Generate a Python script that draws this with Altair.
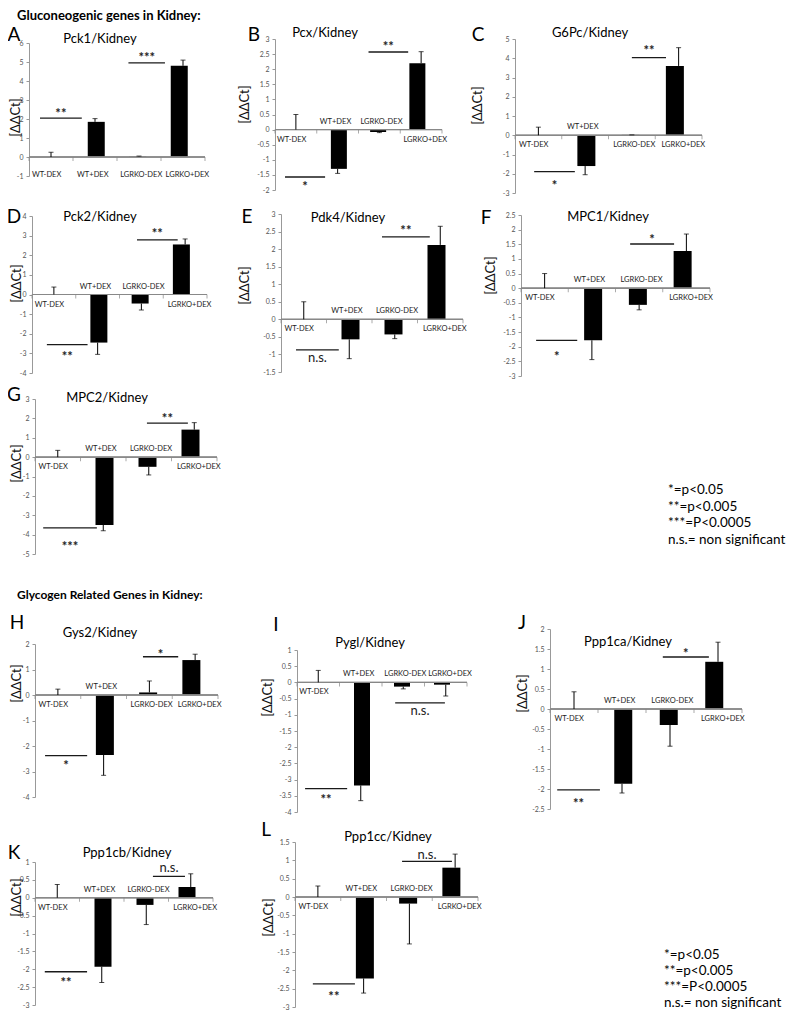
import altair as alt
import pandas as pd

FONT = "Lato"
GROUPS = ["WT-DEX", "WT+DEX", "LGRKO-DEX", "LGRKO+DEX"]

# ---- values: mean [ΔΔCt] and error per group ----
PCK1_MEAN = [0.0, 1.85, 0.03, 4.8]
PCK1_ERR = [0.25, 0.17, 0.02, 0.3]
PCX_MEAN = [0.0, -1.3, -0.08, 2.2]
PCX_ERR = [0.5, 0.15, 0.02, 0.38]
G6PC_MEAN = [0.0, -1.6, 0.02, 3.6]
G6PC_ERR = [0.42, 0.45, 0.0, 0.95]
PCK2_MEAN = [0.0, -2.45, -0.46, 2.55]
PCK2_ERR = [0.38, 0.6, 0.33, 0.28]
PDK4_MEAN = [0.0, -0.57, -0.43, 2.12]
PDK4_ERR = [0.5, 0.55, 0.12, 0.53]
MPC1_MEAN = [0.0, -1.78, -0.57, 1.27]
MPC1_ERR = [0.5, 0.66, 0.17, 0.58]
MPC2_MEAN = [0.0, -3.5, -0.5, 1.42]
MPC2_ERR = [0.35, 0.3, 0.42, 0.36]
GYS2_MEAN = [0.0, -2.35, 0.1, 1.37]
GYS2_ERR = [0.23, 0.8, 0.45, 0.23]
PYGL_MEAN = [0.0, -3.18, -0.13, -0.07]
PYGL_ERR = [0.37, 0.47, 0.07, 0.35]
PPP1CA_MEAN = [0.0, -1.87, -0.4, 1.18]
PPP1CA_ERR = [0.43, 0.23, 0.53, 0.49]
PPP1CB_MEAN = [0.0, -1.93, -0.2, 0.3]
PPP1CB_ERR = [0.37, 0.44, 0.55, 0.37]
PPP1CC_MEAN = [0.0, -2.22, -0.18, 0.8]
PPP1CC_ERR = [0.3, 0.4, 1.1, 0.37]

# ---- significance brackets: (from, to) in group units, line level, label, label level ----
PCK1_SIG = [(0.25, 1.2, 2.05, "**", 2.4), (2.26, 3.09, 4.95, "***", 5.35)]
PCX_SIG = [(0.24, 1.2, -1.57, "*", -1.8), (2.24, 3.19, 2.57, "**", 2.85)]
G6PC_SIG = [(0.41, 1.28, -1.89, "*", -2.5), (2.5, 3.23, 4.03, "**", 4.55)]
PCK2_SIG = [(0.34, 1.27, -2.55, "**", -3.05), (2.4, 3.33, 2.78, "**", 3.25)]
PDK4_SIG = [(0.33, 1.27, -0.87, "n.s.", -1.1), (2.22, 3.27, 2.35, "**", 2.6)]
MPC1_SIG = [(0.32, 1.19, -1.78, "*", -2.25), (2.31, 3.24, 1.51, "*", 1.76)]
MPC2_SIG = [(0.18, 1.36, -3.65, "***", -4.5), (2.46, 3.36, 1.75, "**", 2.1)]
GYS2_SIG = [(0.22, 1.14, -2.38, "*", -2.65), (2.36, 3.13, 1.5, "*", 1.68)]
PYGL_SIG = [(0.19, 1.18, -3.28, "**", -3.55), (2.31, 3.48, -0.63, "n.s.", -0.87)]
PPP1CA_SIG = [(0.15, 1.04, -2.02, "**", -2.3), (2.35, 3.31, 1.3, "*", 1.45)]
PPP1CB_SIG = [(0.22, 1.17, -2.07, "**", -2.3), (2.65, 3.37, 0.6, "n.s.", 0.82)]
PPP1CC_SIG = [(0.39, 1.31, -2.37, "**", -2.65), (2.34, 3.43, 0.97, "n.s.", 1.15)]

LETTERS = ["A", "B", "C", "D", "E", "F", "G", "H", "I", "J", "K", "L"]
TITLES = ["Pck1/Kidney", "Pcx/Kidney", "G6Pc/Kidney", "Pck2/Kidney", "Pdk4/Kidney",
          "MPC1/Kidney", "MPC2/Kidney", "Gys2/Kidney", "Pygl/Kidney", "Ppp1ca/Kidney",
          "Ppp1cb/Kidney", "Ppp1cc/Kidney"]
MEANS = [PCK1_MEAN, PCX_MEAN, G6PC_MEAN, PCK2_MEAN, PDK4_MEAN, MPC1_MEAN, MPC2_MEAN,
         GYS2_MEAN, PYGL_MEAN, PPP1CA_MEAN, PPP1CB_MEAN, PPP1CC_MEAN]
ERRS = [PCK1_ERR, PCX_ERR, G6PC_ERR, PCK2_ERR, PDK4_ERR, MPC1_ERR, MPC2_ERR,
        GYS2_ERR, PYGL_ERR, PPP1CA_ERR, PPP1CB_ERR, PPP1CC_ERR]
SIGS = [PCK1_SIG, PCX_SIG, G6PC_SIG, PCK2_SIG, PDK4_SIG, MPC1_SIG, MPC2_SIG,
        GYS2_SIG, PYGL_SIG, PPP1CA_SIG, PPP1CB_SIG, PPP1CC_SIG]
# axis ranges (max, min, tick step)
YAXES = [(6, -1, 1), (3, -2, 0.5), (5, -3, 1), (4, -4, 1), (3, -1.5, 0.5), (2.5, -3, 0.5),
         (3, -5, 1), (2, -4, 1), (1, -4, 0.5), (2, -2.5, 0.5), (1, -3, 0.5), (1.5, -3, 0.5)]

HEADER1 = "Gluconeogenic genes in Kidney:"
HEADER2 = "Glycogen Related Genes in Kidney:"
LEGEND = "*=p<0.05\n**=p<0.005\n***=P<0.0005\nn.s.= non significant"

# ---- layout (page pixels): plot left, right, top, bottom ----
GEOM = [(29, 205, 43, 176), (275, 442, 39, 190), (515, 702, 39, 193),
        (32, 207, 216, 373), (281, 463, 214, 372), (521, 710, 215, 376),
        (35, 217, 399, 554),
        (35, 218, 644, 797), (297, 467, 650, 812), (550, 742, 629, 809),
        (35, 213, 862, 1005), (295, 478, 842, 1007)]
LETTER_POS = [(14, 35), (254, 35), (478, 35), (14, 217), (247, 217), (486, 218), (14, 395),
              (17, 623), (276, 625), (522, 623), (14, 853), (266, 830)]
TITLE_POS = [(100, 39), (325, 33), (590, 33), (100, 217), (348, 218), (608, 217), (107, 398),
             (100, 633), (370, 643), (628, 642), (127, 853), (388, 837)]
YLAB_POS = [(15.5, 117), (244, 104), (477, 105), (16, 283), (244, 285), (490, 275), (16, 463),
            (16, 683), (267, 697), (522, 693), (16, 897), (268, 917)]
LABEL_NUDGE = [-0.1, -0.05, 0.05, 0.1]   # horizontal nudge of group labels (band units)
OX, OY = 8, 8          # page margin: layout coordinate = page coordinate - 8
W, H = 778, 1003


def text_layer(txt, px, py, **kw):
    return alt.Chart(pd.DataFrame({"t": [txt]})).mark_text(font=FONT, **kw).encode(
        x=alt.value(px - OX), y=alt.value(py - OY), text="t:N")


def panel_layers(i):
    x0, x1, yt, yb = GEOM[i]
    w = x1 - x0
    ymax, ymin, step = YAXES[i]
    n = len(GROUPS)
    mean, err = MEANS[i], ERRS[i]
    df = pd.DataFrame({"group": GROUPS, "pos": [k + 0.5 for k in range(n)],
                       "val": mean, "err": err})
    df["end"] = [v + e if v >= 0 else v - e for v, e in zip(mean, err)]
    df["zero"] = 0.0
    df["lpos"] = df["pos"] + LABEL_NUDGE
    xs = alt.Scale(domain=[0, n], range=[x0 - OX, x1 - OX], nice=False, zero=False)
    ys = alt.Scale(domain=[ymin, ymax], range=[yb - OY, yt - OY], nice=False, zero=False)
    nt = int(round((ymax - ymin) / step))
    tick_vals = [round(ymin + k * step, 3) for k in range(nt + 1)]
    X = alt.X("pos:Q", scale=xs, axis=None)
    base = alt.Chart(df)
    bw = round(0.385 * w / n)
    lx, ly = YLAB_POS[i]

    yaxis = alt.Axis(orient="left", offset=-(x0 - OX), values=tick_vals,
                     labelExpr="'' + datum.value", title="[ΔΔCt]",
                     titleX=lx - x0, titleY=ly - OY, titleAngle=270, titleAlign="center",
                     titleBaseline="middle", titleFont=FONT, titleFontSize=13,
                     titleFontWeight="normal", titleColor="#111",
                     labelFont=FONT, labelFontSize=7, labelColor="#555", labelPadding=3,
                     labelOverlap=False, tickSize=3, tickColor="#999", domainColor="#999",
                     grid=False)

    def Y(field):
        return alt.Y(field, scale=ys, axis=None)

    bars = base.mark_bar(color="black", size=bw).encode(
        x=X, y=alt.Y("val:Q", scale=ys, axis=yaxis), y2=alt.datum(0))
    zero = base.mark_rule(color="#888", strokeWidth=1).encode(
        y=Y("zero:Q"), x=alt.value(x0 - OX), x2=alt.value(x1 - OX))
    bdf = pd.DataFrame({"b": list(range(n + 1)), "zero": [0.0] * (n + 1)})
    bticks = alt.Chart(bdf).mark_tick(orient="vertical", size=4, thickness=1, color="#888",
                                      yOffset=2).encode(
        x=alt.X("b:Q", scale=xs, axis=None), y=Y("zero:Q"))
    erule = base.mark_rule(color="black", strokeWidth=1).encode(
        x=X, y=Y("val:Q"), y2="end:Q")
    ecap = base.mark_tick(orient="horizontal", size=5, thickness=1, color="black").encode(
        x=X, y=Y("end:Q"))

    LX = alt.X("lpos:Q", scale=xs, axis=None)
    lab_kw = dict(font=FONT, fontSize=7.5, color="#222", baseline="middle")
    if i == 0:
        labels = [base.mark_text(**lab_kw).encode(x=LX, y=alt.value(yb - OY - 1),
                                                  text="group:N")]
    else:
        labels = [
            base.transform_filter("datum.val < 0").mark_text(dy=-8, **lab_kw).encode(
                x=LX, y=Y("zero:Q"), text="group:N"),
            base.transform_filter("datum.val >= 0").mark_text(dy=10, **lab_kw).encode(
                x=LX, y=Y("zero:Q"), text="group:N"),
        ]

    sdf = pd.DataFrame(SIGS[i], columns=["x1", "x2", "yl", "lab", "yt"])
    sdf["xm"] = (sdf["x1"] + sdf["x2"]) / 2
    sig_base = alt.Chart(sdf)
    srule = sig_base.mark_rule(color="#1a1a1a", strokeWidth=1.3).encode(
        x=alt.X("x1:Q", scale=xs, axis=None), x2="x2:Q", y=Y("yl:Q"))
    sstar = sig_base.transform_filter("datum.lab != 'n.s.'").mark_text(
        font=FONT, fontSize=13, fontWeight="bold", color="#222", baseline="middle", dy=3).encode(
        x=alt.X("xm:Q", scale=xs, axis=None), y=Y("yt:Q"), text="lab:N")
    sns = sig_base.transform_filter("datum.lab == 'n.s.'").mark_text(
        font=FONT, fontSize=13, color="#222", baseline="middle").encode(
        x=alt.X("xm:Q", scale=xs, axis=None), y=Y("yt:Q"), text="lab:N")

    ltx, lty = LETTER_POS[i]
    ttx, tty = TITLE_POS[i]
    texts = [
        text_layer(LETTERS[i], ltx, lty, fontSize=19, align="center", baseline="middle",
                   color="black"),
        text_layer(TITLES[i], ttx, tty, fontSize=13, align="center", baseline="middle",
                   color="black"),
    ]
    return [bars, zero, bticks, erule, ecap] + labels + [srule, sstar, sns] + texts


layers = []
for i in range(len(LETTERS)):
    layers += panel_layers(i)
layers += [
    text_layer(HEADER1, 17, 16, fontSize=13, fontWeight="bold", align="left",
               baseline="middle", color="black"),
    text_layer(HEADER2, 17, 595, fontSize=12, fontWeight="bold", align="left",
               baseline="middle", color="black"),
    text_layer(LEGEND, 668, 483, fontSize=13.5, align="left", baseline="top",
               lineBreak="\n", lineHeight=16.7, color="black"),
    text_layer(LEGEND, 664, 948, fontSize=13.5, align="left", baseline="top",
               lineBreak="\n", lineHeight=16, color="black"),
]

chart = alt.layer(*layers).properties(
    width=W, height=H, padding=0, background="white",
    autosize=alt.AutoSizeParams(type="none"),
).resolve_scale(x="independent", y="independent").resolve_axis(
    x="independent", y="independent"
).configure_view(stroke=None)

chart.save("out.html", embed_options={"renderer": "svg", "actions": False})
